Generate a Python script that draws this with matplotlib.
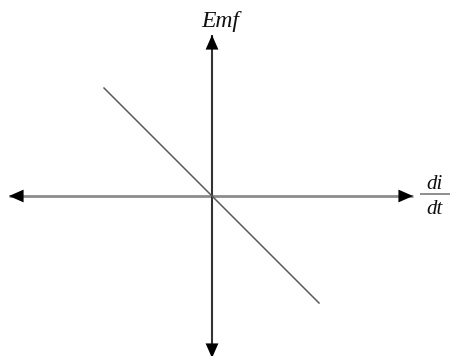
import matplotlib
matplotlib.use('Agg')
import matplotlib.pyplot as plt

# axes extents in data units (origin = crossing point)
x_axis = [-2.03, 2.01]
y_axis = [-1.62, 1.61]

# the emf vs di/dt line (slope -1)
line_x = [-1.08, 1.07]
line_y = [1.08, -1.07]

x_num, x_den = 'di', 'dt'
y_label = 'Emf'

fig = plt.figure(figsize=(4.52, 3.56), dpi=100, facecolor='w')
ax = fig.add_axes([0, 0, 1, 1])
ax.set_xlim(-2.12, 2.40)
ax.set_ylim(-1.60, 1.96)
ax.axis('off')

arrow = dict(arrowstyle='-|>,head_length=10.5,head_width=4.6', mutation_scale=1,
             color='black', lw=0, shrinkA=0, shrinkB=0)

# horizontal axis
ax.plot(x_axis, [0, 0], color='#8c8c8c', lw=2.0, solid_capstyle='butt', zorder=1)
# vertical axis
ax.plot([0, 0], y_axis, color='#333333', lw=1.5, solid_capstyle='butt', zorder=2)

for tip in x_axis:
    ax.annotate('', xy=(tip, 0), xytext=(0, 0), arrowprops=arrow,
                annotation_clip=False)
for tip in y_axis:
    ax.annotate('', xy=(0, tip), xytext=(0, 0), arrowprops=arrow,
                annotation_clip=False)

# the line
ax.plot(line_x, line_y, color='#5a5a5a', lw=1.1, zorder=3)

font = dict(family='Liberation Serif', style='italic', color='#111111')
ax.text(0.085, 1.687, y_label, fontsize=17, ha='center', va='baseline', **font)

# di/dt written as a fraction
ax.text(2.225, 0.07, x_num, fontsize=15, ha='center', va='baseline', **font)
ax.text(2.225, -0.18, x_den, fontsize=15, ha='center', va='baseline', **font)
ax.plot([2.08, 2.38], [0.02, 0.02], color='#707070', lw=1.1, solid_capstyle='butt')

fig.savefig('out.png', dpi=100, facecolor='w')
